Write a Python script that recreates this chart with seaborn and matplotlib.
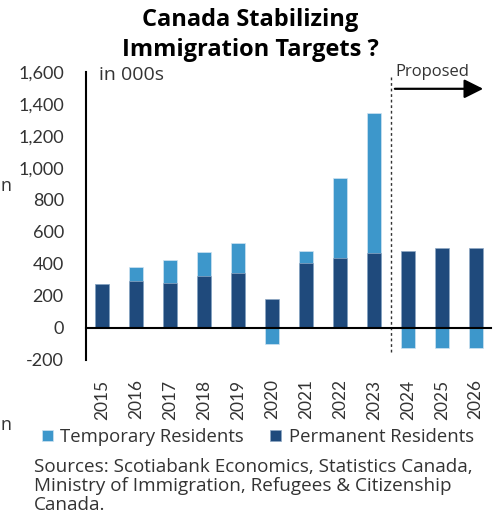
import matplotlib
matplotlib.use("Agg")
import matplotlib.pyplot as plt
import seaborn as sns
import pandas as pd
from matplotlib.ticker import FuncFormatter

# ---- data (thousands) ----
years = ["2015", "2016", "2017", "2018", "2019", "2020",
         "2021", "2022", "2023", "2024", "2025", "2026"]
permanent = [272, 296, 282, 322, 341, 180, 406, 440, 466, 480, 498, 498]
temporary = [0, 85, 142, 152, 188, -100, 75, 500, 875, -127, -127, -127]
yticks = [-200, 0, 200, 400, 600, 800, 1000, 1200, 1400, 1600]

title_lines = ["Canada Stabilizing", "Immigration Targets ?"]
source_lines = ["Sources: Scotiabank Economics, Statistics Canada,",
                "Ministry of Immigration, Refugees & Citizenship",
                "Canada."]

DARK = "#1f4a7c"
LIGHT = "#3d97cb"
TXT = "#333333"
BODY = ["Open Sans", "DejaVu Sans"]

sns.set_style("white")
plt.rcParams["font.family"] = ["Lato", "DejaVu Sans"]

# visible extent of temporary segment (stacked on top if positive, below 0 if negative)
temp_top = [p + t if t >= 0 else t for p, t in zip(permanent, temporary)]
df = pd.DataFrame({"year": years, "permanent": permanent,
                   "temp_top": temp_top})

W, H = 497, 521
fig = plt.figure(figsize=(W / 100, H / 100), dpi=100)
ax = fig.add_axes([86 / W, 1 - 360 / H, (491 - 86) / W, (360 - 72) / H])

sns.barplot(data=df, x="year", y="temp_top", color=LIGHT, width=0.42,
            saturation=1, label="Temporary Residents", ax=ax,
            edgecolor="#cfe3f1", linewidth=0.5)
sns.barplot(data=df, x="year", y="permanent", color=DARK, width=0.42,
            saturation=1, label="Permanent Residents", ax=ax,
            edgecolor="#8fa8c4", linewidth=0.5)
handles, labels = ax.get_legend_handles_labels()
if ax.get_legend() is not None:
    ax.get_legend().remove()

ax.set_xlim(-0.47, 11.45)
ax.set_ylim(-200, 1600)
ax.set_xlabel("")
ax.set_ylabel("")
ax.set_yticks(yticks)
ax.yaxis.set_major_formatter(FuncFormatter(lambda v, p: f"{int(v):,}"))
ax.tick_params(axis="y", direction="in", length=5, width=1.5,
               labelsize=13, labelcolor=TXT, pad=16)

# x axis line at zero with ticks between categories
for s in ["top", "right"]:
    ax.spines[s].set_visible(False)
ax.spines["left"].set_linewidth(1.5)
ax.spines["left"].set_color("black")
ax.spines["bottom"].set_position(("data", 0))
ax.spines["bottom"].set_linewidth(1.5)
ax.spines["bottom"].set_color("black")
ax.set_xticks([i + 0.5 for i in range(len(years) - 1)])
ax.set_xticklabels([])
ax.tick_params(axis="x", direction="out", length=5, width=1.5, color="black")

sec = ax.secondary_xaxis("bottom")
sec.set_xticks(range(len(years)), labels=years)
sec.tick_params(length=0, pad=14, labelsize=12.5, labelcolor=TXT,
                labelrotation=90)
sec.spines["bottom"].set_visible(False)

# proposed divider
ax.plot([8.5, 8.5], [-150, 1570], ls=(0, (2, 2)), color="#333333", lw=1)
ax.text(8.63, 1600, "Proposed", ha="left", va="center", fontsize=12,
        color=TXT, family=BODY)
ax.annotate("", xy=(11.22, 1495), xytext=(8.62, 1495),
            arrowprops=dict(arrowstyle="-|>", lw=1.6, color="black",
                            mutation_scale=29, shrinkA=0, shrinkB=0))
ax.text(-0.08, 1580, "in 000s", ha="left", va="center", fontsize=14,
        color=TXT, family=BODY)

# title
fig.text(250 / W, 1 - 20 / H, title_lines[0], ha="center", va="center",
         fontsize=17, fontweight="bold", color="black", family=BODY)
fig.text(250 / W, 1 - 50 / H, title_lines[1], ha="center", va="center",
         fontsize=17, fontweight="bold", color="black", family=BODY)

# legend
fig.legend(handles[:2], labels[:2], loc="center left",
           bbox_to_anchor=(42 / W, 1 - 437 / H), ncol=2, frameon=False,
           handlelength=0.6, handleheight=0.6, handletextpad=0.4,
           columnspacing=1.4, borderaxespad=0, borderpad=0,
           prop={"family": BODY, "size": 13.3}, labelcolor=TXT)

# sources
for line, yb in zip(source_lines, [472, 491, 510]):
    fig.text(34 / W, 1 - yb / H, line, ha="left", va="baseline",
             fontsize=13.6, color=TXT, family=BODY)

# fragments at the left edge of the original
fig.text(0 / W, 1 - 191 / H, "n", ha="left", va="baseline", fontsize=13,
         color=TXT, family=BODY)
fig.text(0 / W, 1 - 430 / H, "n", ha="left", va="baseline", fontsize=13,
         color=TXT, family=BODY)

fig.savefig("out.png", dpi=100)
